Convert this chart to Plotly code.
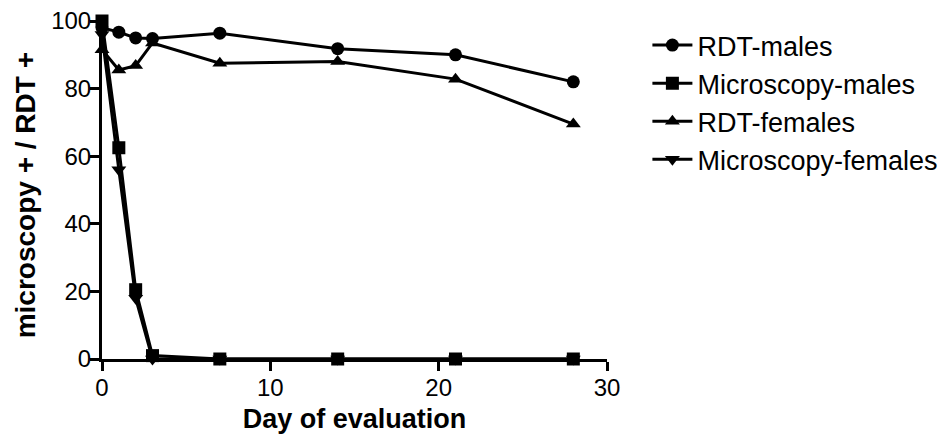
import plotly.graph_objects as go

days = [0, 1, 2, 3, 7, 14, 21, 28]
rdt_males = [98, 96.7, 95, 94.8, 96.4, 91.8, 90, 82]
micro_males = [100, 62.5, 20.5, 1, 0, 0, 0, 0]
rdt_females = [91.5, 85.5, 86.8, 93.5, 87.5, 88, 82.8, 69.5]
micro_females = [96, 56, 18, 0, 0, 0, 0, 0]

series = [
    ("RDT-males", rdt_males, "circle"),
    ("Microscopy-males", micro_males, "square"),
    ("RDT-females", rdt_females, "triangle-up"),
    ("Microscopy-females", micro_females, "triangle-down"),
]

fig = go.Figure()
for name, vals, sym in series:
    fig.add_trace(go.Scatter(
        x=days, y=vals, name=name, mode="lines+markers",
        line=dict(color="black", width=3),
        marker=dict(symbol=sym, size=13, color="black"),
        cliponaxis=False,
    ))

font = "Liberation Sans, Arial"
# page body has an 8px margin, so figure is 943x427 and offsets are compensated
fig.update_layout(
    width=943, height=427,
    margin=dict(l=94, r=344, t=13, b=76, autoexpand=False),
    plot_bgcolor="white", paper_bgcolor="white",
    font=dict(family=font, size=24, color="black"),
    legend=dict(x=1.08, y=1.0, xanchor="left", yanchor="top",
                font=dict(family=font, size=27), itemwidth=40,
                tracegroupgap=0),
    showlegend=True,
    annotations=[dict(
        text="<b>microscopy + / RDT +</b>", textangle=-90,
        xref="paper", yref="paper", x=-0.152, y=0.485,
        xanchor="center", yanchor="middle", showarrow=False,
        font=dict(family=font, size=28),
    )],
)
fig.update_xaxes(range=[0, 30], tickvals=[0, 10, 20, 30], showline=True,
                 linecolor="black", linewidth=3, ticks="outside", ticklen=9,
                 tickwidth=3, tickcolor="black", showgrid=False, zeroline=False,
                 automargin=False, ticklabelstandoff=-4, ticklabeloverflow="allow",
                 title=dict(text="<b>Day of evaluation</b>", standoff=10,
                            font=dict(family=font, size=27)))
fig.update_yaxes(range=[0, 100], tickvals=[0, 20, 40, 60, 80, 100], showline=True,
                 linecolor="black", linewidth=3, ticks="outside", ticklen=9,
                 tickwidth=3, tickcolor="black", showgrid=False, zeroline=False,
                 automargin=False, ticklabelstandoff=-6, ticklabeloverflow="allow")
fig.write_html("out.html")
